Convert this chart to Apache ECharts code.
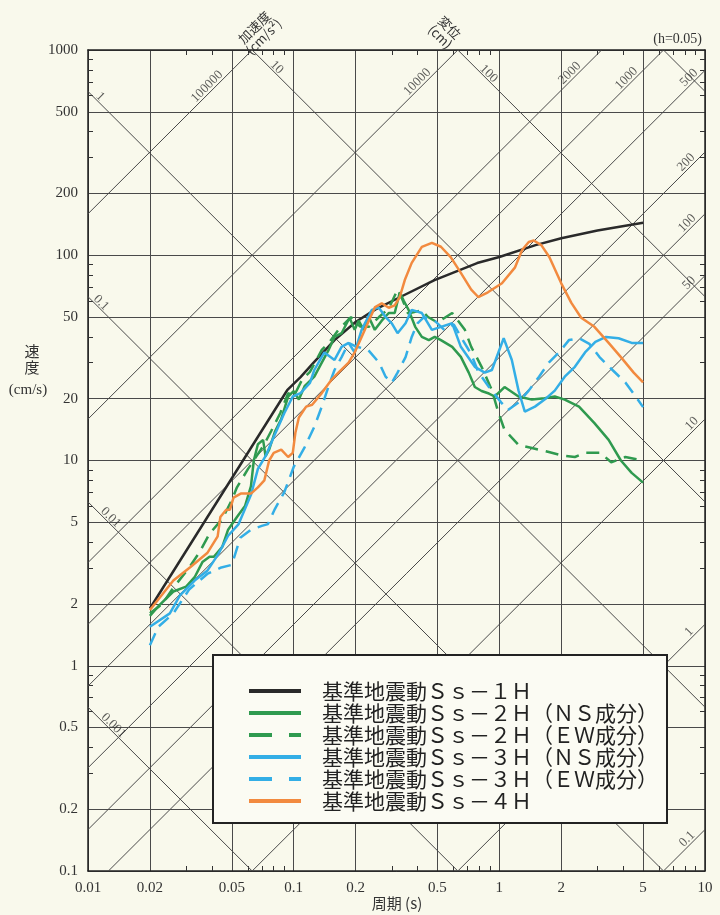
<!DOCTYPE html>
<html><head><meta charset="utf-8">
<script src="https://cdn.jsdelivr.net/npm/echarts@6/dist/echarts.min.js"></script>
<style>html,body{margin:0;padding:0;background:#f9f9ec}#c{width:720px;height:915px}</style>
</head><body><div id="c"></div>
<script>
// ---------- axis ticks ----------
const xMajor = [0.01,0.02,0.05,0.1,0.2,0.5,1,2,5,10];
const xMinor = [0.03,0.04,0.06,0.07,0.08,0.09,0.3,0.4,0.6,0.7,0.8,0.9,3,4,6,7,8,9];
const yMajor = [0.1,0.2,0.5,1,2,5,10,20,50,100,200,500,1000];
const yMinor = [0.3,0.4,0.6,0.7,0.8,0.9,3,4,6,7,8,9,30,40,60,70,80,90,300,400,600,700,800,900];
// ---------- tripartite guide lines ----------
const accelValues = [0.1,1,10,50,100,200,500,1000,2000,10000,100000];   // cm/s2
const dispValues  = [0.001,0.01,0.1,1,10,100,1000];                     // cm
const accelLabelValues = [100000,10000,2000,1000,500,200,100,50,10,1,0.1];
const accelLabelPeriods = [0.0417,0.439,2.42,4.57,9.2,8.9,9.0,9.2,9.5,9.2,9.0];
const dispLabelValues = [1,0.1,0.01,0.001,10,100];
const dispLabelPeriods = [0.0106,0.0107,0.0119,0.0123,0.0764,0.82];
// ---------- series names ----------
const seriesNames = [
  '基準地震動Ｓｓ－１Ｈ',
  '基準地震動Ｓｓ－２Ｈ（ＮＳ成分）',
  '基準地震動Ｓｓ－２Ｈ（ＥＷ成分）',
  '基準地震動Ｓｓ－３Ｈ（ＮＳ成分）',
  '基準地震動Ｓｓ－３Ｈ（ＥＷ成分）',
  '基準地震動Ｓｓ－４Ｈ'
];
// ---------- data: period (s) / velocity (cm/s) ----------
const ss1T = [0.02,0.093,0.108,0.125,0.158,0.2,0.25,0.33,0.484,0.78,1.0,1.5,2.0,3.0,5.0];
const ss1V = [1.9,22,25.5,30,38.6,47.3,54.5,62.6,75.7,91.6,98,112,121,132,144];

const ss2nsT = [0.02,0.022,0.026,0.03,0.033,0.036,0.039,0.041,0.045,0.048,0.053,0.058,0.062,0.064,0.067,0.071,0.073,0.076,0.081,0.087,0.094,0.1,0.106,0.113,0.126,0.137,0.148,0.158,0.171,0.187,0.198,0.207,0.219,0.232,0.248,0.268,0.29,0.31,0.328,0.343,0.362,0.39,0.42,0.454,0.485,0.52,0.59,0.65,0.71,0.76,0.82,0.89,0.95,1.06,1.24,1.44,1.66,1.86,2.08,2.44,2.9,3.4,3.9,4.4,5.0];
const ss2nsV = [1.75,1.95,2.3,2.43,2.7,3.2,3.4,3.4,3.8,4.6,5.3,6.0,7.5,10.0,12.0,12.6,10.5,11.3,13.8,15.9,20.5,21.8,19.8,23,25.6,30,34.6,40,41.7,49.6,43.3,48,43.3,50,43.3,48,52.3,52.3,66,60,54.2,44.8,40,38.6,40,38.6,35.8,32,26.8,22.8,21.8,21.2,20.5,22.8,20.5,19.8,20.1,20.5,19.8,18.3,15.2,12.6,10,8.7,7.8];

const ss2ewT = [0.02,0.023,0.026,0.031,0.035,0.039,0.045,0.05,0.053,0.06,0.066,0.072,0.078,0.086,0.094,0.1,0.11,0.12,0.137,0.15,0.165,0.19,0.21,0.232,0.26,0.29,0.32,0.335,0.36,0.39,0.42,0.45,0.5,0.55,0.59,0.63,0.68,0.73,0.82,0.92,0.99,1.06,1.24,1.44,1.74,2.0,2.33,2.61,3.1,3.5,4.1,5.0];
const ss2ewV = [1.8,2.0,2.4,3.0,3.6,4.4,5.2,6.4,7.4,9.1,10.5,12,14,17,21.3,20.5,24.8,27,34.6,38,43.3,50,45,44.8,50,55,68,62,52,53,54,50,47,50,52.3,48,43.3,35.8,28.6,22,17.1,14.1,11.9,11.5,11.0,10.6,10.4,10.9,10.9,9.8,10.4,10.0];

const ss3nsT = [0.02,0.025,0.028,0.033,0.038,0.043,0.048,0.054,0.062,0.067,0.073,0.08,0.09,0.099,0.108,0.12,0.126,0.141,0.158,0.171,0.185,0.198,0.214,0.24,0.259,0.28,0.3,0.32,0.35,0.375,0.42,0.47,0.52,0.59,0.65,0.76,0.85,0.92,1.05,1.15,1.24,1.33,1.49,1.66,1.86,2.08,2.33,2.61,2.93,3.3,3.8,4.4,5.0];
const ss3nsV = [1.55,1.8,2.2,2.6,2.9,3.5,4.3,4.9,6.8,9.1,10.5,13.0,17,20.5,21.3,23.9,27.6,33.6,30.9,35.8,37.4,33.6,43.3,54.2,55.7,50,46.6,41.7,46.6,54.2,52.3,43.3,44.8,46.6,35.8,28.6,26.8,27.6,39.4,30.9,21.9,17.3,18.3,19.8,21.9,25.6,28.6,33.6,37.8,40,39.4,37.4,37.4];

const ss3ewT = [0.02,0.022,0.026,0.031,0.038,0.044,0.05,0.055,0.062,0.07,0.075,0.081,0.09,0.1,0.113,0.126,0.137,0.15,0.158,0.171,0.185,0.2,0.23,0.26,0.28,0.3,0.32,0.35,0.375,0.4,0.43,0.485,0.54,0.6,0.65,0.73,0.79,0.89,1.02,1.1,1.24,1.39,1.56,1.74,1.95,2.18,2.44,2.74,3.07,3.55,4.1,4.6,5.0];
const ss3ewV = [1.26,1.55,1.8,2.35,2.8,3.0,3.1,4.2,4.6,4.8,4.9,5.8,7.0,9.3,11.6,14.6,18.3,24,27.6,31.9,37.4,36,34.6,30,25.6,23.9,26.8,31.9,40,46.6,50,48,43.3,46,40,33,27,22.8,19.2,17.6,19.2,21.9,25.6,30,33.6,38.6,39.4,37,31.9,27.6,24,20.5,18.2];

const ss4T = [0.02,0.026,0.0315,0.038,0.0427,0.044,0.047,0.049,0.051,0.0553,0.062,0.067,0.072,0.076,0.08,0.087,0.094,0.099,0.102,0.106,0.115,0.123,0.137,0.153,0.165,0.185,0.198,0.214,0.232,0.248,0.268,0.29,0.31,0.328,0.347,0.375,0.42,0.47,0.52,0.58,0.65,0.73,0.79,0.88,1.03,1.19,1.29,1.39,1.47,1.6,1.75,2.0,2.24,2.5,2.9,3.4,3.9,4.5,5.0];
const ss4V = [1.87,2.6,3.03,3.54,4.27,5.3,5.76,5.76,6.6,6.9,6.9,7.4,8.0,10,10.9,11.3,10.4,10.9,13.7,16.2,18.3,18.7,21.3,24.8,26.8,30,33.6,40,48,55.7,58.4,55.5,57,62.6,75.7,91.8,109.8,115,110,98,82,68,62.6,66,73.1,87,106,116,118,112,98,73,58.6,49.6,44.8,37.4,31.9,26.8,24.0];

// ---------- build ----------
const X_MIN = 0.01, X_MAX = 10, Y_MIN = 0.1, Y_MAX = 1000;
const SERIF = "'Liberation Serif','DejaVu Serif',serif";
const CJK = "'Noto Sans CJK JP','Noto Sans CJK SC',sans-serif";
const GRID_C = '#4a4a4a';
const zip = (a, b) => a.map((t, i) => [t, b[i]]);
const nearest = (list, v) => list.reduce((p, c) => Math.abs(Math.log(c / v)) < Math.abs(Math.log(p / v)) ? c : p);

function accelSeg(A) {
  const k = A / (2 * Math.PI);
  const t1 = Math.max(X_MIN, Y_MIN / k), t2 = Math.min(X_MAX, Y_MAX / k);
  return t1 < t2 ? [[t1, k * t1], [t2, k * t2]] : null;
}
function dispSeg(D) {
  const c = 2 * Math.PI * D;
  const t1 = Math.max(X_MIN, c / Y_MAX), t2 = Math.min(X_MAX, c / Y_MIN);
  return t1 < t2 ? [[t1, c / t1], [t2, c / t2]] : null;
}
const guideSeries = [];
accelValues.forEach(a => { const s = accelSeg(a); if (s) guideSeries.push(s); });
dispValues.forEach(d => { const s = dispSeg(d); if (s) guideSeries.push(s); });

const labelPoints = [];
accelLabelValues.forEach((a, i) => {
  const T = accelLabelPeriods[i];
  labelPoints.push({ value: [T, a * T / (2 * Math.PI)], label: { formatter: String(a), rotate: 45, offset: [-6, -6] } });
});
dispLabelValues.forEach((d, i) => {
  const T = dispLabelPeriods[i];
  labelPoints.push({ value: [T, 2 * Math.PI * d / T], label: { formatter: String(d), rotate: -45, offset: [5, -5] } });
});

const colors = ['#2a2a2a', '#2f9a4f', '#2f9a4f', '#33aee6', '#33aee6', '#f28a3f'];
const dashed = [false, false, true, false, true, false];
const dataPairs = [zip(ss1T, ss1V), zip(ss2nsT, ss2nsV), zip(ss2ewT, ss2ewV), zip(ss3nsT, ss3nsV), zip(ss3ewT, ss3ewV), zip(ss4T, ss4V)];

const series = [];
guideSeries.forEach(seg => series.push({
  type: 'line', data: seg, symbol: 'none', silent: true, z: 1,
  lineStyle: { color: GRID_C, width: 1 }, animation: false
}));
series.push({
  type: 'scatter', data: labelPoints, symbolSize: 0, silent: true, z: 1,
  label: { show: true, position: 'inside', color: '#333', fontFamily: SERIF, fontSize: 13 }
});
seriesNames.forEach((name, i) => series.push({
  name, type: 'line', data: dataPairs[i], symbol: 'none', z: 2,
  lineStyle: { color: colors[i], width: 2.5, type: dashed[i] ? [13, 8] : 'solid' },
  itemStyle: { color: colors[i] }
}));

function logAxis(extra) {
  return Object.assign({ type: 'log', logBase: 10, splitLine: { show: false }, axisLabel: { show: false } }, extra);
}
const minorTick = (vals) => ({ show: true, inside: true, length: 5, customValues: vals, lineStyle: { color: '#333', width: 1 } });

const option = {
  backgroundColor: '#f9f9ec',
  animation: false,
  grid: { left: 88, right: 15, top: 50, bottom: 44, containLabel: false, outerBoundsMode: 'none' },
  xAxis: [
    logAxis({ min: X_MIN, max: X_MAX, position: 'bottom',
      axisLine: { show: true, lineStyle: { color: '#222', width: 1.5 } },
      axisTick: { show: false, customValues: xMajor },
      axisLabel: { show: true, customValues: xMajor, margin: 10, color: '#333', fontFamily: SERIF, fontSize: 15,
        formatter: v => String(nearest(xMajor, v)) },
      splitLine: { show: true, lineStyle: { color: GRID_C, width: 1 } } }),
    logAxis({ min: X_MIN, max: X_MAX, position: 'bottom', axisLine: { show: false }, axisTick: minorTick(xMinor) }),
    logAxis({ min: X_MIN, max: X_MAX, position: 'top', axisLine: { show: true, lineStyle: { color: '#222', width: 1.5 } }, axisTick: minorTick(xMinor) })
  ],
  yAxis: [
    logAxis({ min: Y_MIN, max: Y_MAX, position: 'left',
      axisLine: { show: true, lineStyle: { color: '#222', width: 1.5 } },
      axisTick: { show: false, customValues: yMajor },
      axisLabel: { show: true, customValues: yMajor, margin: 10, color: '#333', fontFamily: SERIF, fontSize: 15,
        formatter: v => String(nearest(yMajor, v)) },
      splitLine: { show: true, lineStyle: { color: GRID_C, width: 1 } } }),
    logAxis({ min: Y_MIN, max: Y_MAX, position: 'left', axisLine: { show: false }, axisTick: minorTick(yMinor) }),
    logAxis({ min: Y_MIN, max: Y_MAX, position: 'right', axisLine: { show: true, lineStyle: { color: '#222', width: 1.5 } }, axisTick: minorTick(yMinor) })
  ],
  legend: {
    data: seriesNames.map((n, i) => ({ name: n, lineStyle: { width: 4, type: dashed[i] ? [23, 17] : 'solid' } })),
    orient: 'vertical', left: 247, top: 680, padding: 0,
    itemWidth: 52, itemHeight: 4, itemGap: 0, selectedMode: false,
    itemStyle: { opacity: 0 },
    textStyle: { fontFamily: CJK, fontSize: 21, lineHeight: 22, color: '#222', padding: [0, 0, 0, 16] }
  },
  graphic: [
    { type: 'rect', z: 3, shape: { x: 213, y: 655, width: 454, height: 168 },
      style: { fill: '#fbfbf3', stroke: '#222', lineWidth: 2 } },
    { type: 'text', z: 5, x: 397, y: 903, style: { text: '周期 (s)', fontFamily: CJK, fontSize: 15, fill: '#333', align: 'center', verticalAlign: 'middle' } },
    { type: 'text', z: 5, x: 32, y: 359, style: { text: '速\n度', fontFamily: CJK, fontSize: 15, lineHeight: 16, fill: '#333', align: 'center', verticalAlign: 'middle' } },
    { type: 'text', z: 5, x: 28, y: 390, style: { text: '(cm/s)', fontFamily: SERIF, fontSize: 15, fill: '#333', align: 'center', verticalAlign: 'middle' } },
    { type: 'text', z: 5, x: 259, y: 32, rotation: Math.PI / 4, style: { text: '加速度\n(cm/s²)', fontFamily: CJK, fontSize: 13, lineHeight: 13, fill: '#333', align: 'center', verticalAlign: 'middle' } },
    { type: 'text', z: 5, x: 445, y: 32, rotation: -Math.PI / 4, style: { text: '変位\n(cm)', fontFamily: CJK, fontSize: 13, lineHeight: 13, fill: '#333', align: 'center', verticalAlign: 'middle' } },
    { type: 'text', z: 5, x: 702, y: 39, style: { text: '(h=0.05)', fontFamily: SERIF, fontSize: 14, fill: '#333', align: 'right', verticalAlign: 'middle' } }
  ],
  series
};
const chart = echarts.init(document.getElementById('c'), null, { renderer: 'canvas' });
chart.setOption(option);
</script>
</body></html>
